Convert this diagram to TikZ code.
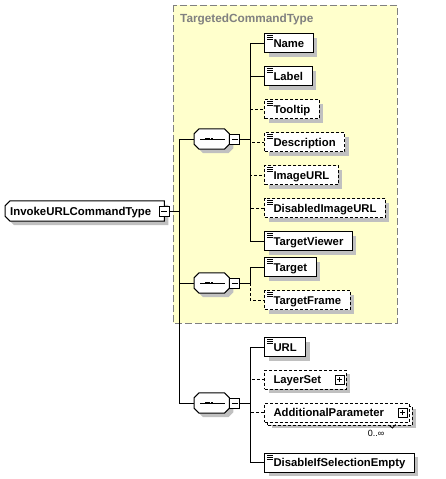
\documentclass[tikz,border=0pt]{standalone}
\usepackage{fontspec}
\setmainfont{Liberation Sans}
\usetikzlibrary{positioning, shadows, backgrounds}
\definecolor{groupfill}{RGB}{255,255,204}
\definecolor{groupgray}{RGB}{128,128,128}
\definecolor{shadowgray}{RGB}{192,192,192}
\tikzset{xs-line/.style={line width=1pt}}
\tikzset{xs-optline/.style={line width=1pt, dash pattern=on 3pt off 2pt}}
\tikzset{xs-shadow/.style={drop shadow={shadow xshift=4pt, shadow yshift=-4pt, fill=shadowgray, opacity=1}}}
\tikzset{xs-frame/.style={draw, fill=white, line width=1pt, xs-shadow}}
\tikzset{xs-box/.style={draw, fill=white, line width=1pt, xs-shadow, inner xsep=0pt, inner ysep=0pt, minimum height=19pt, text height=8.2pt, text depth=0pt, anchor=west, font=\bfseries\fontsize{11.3}{13}\selectfont, execute at begin node={\hspace*{9pt}}, execute at end node={\hspace*{9pt}}}}
\tikzset{xs-icon/.style={path picture={\foreach \d in {2pt,4pt,6pt} \draw[solid, line width=0.9pt] ([xshift=2.5pt, yshift=-\d]path picture bounding box.north west) -- ++(6pt,0pt);}}}
\tikzset{xs-elem/.style={xs-box, xs-icon}}
\tikzset{xs-optelem/.style={xs-box, xs-icon, dash pattern=on 3pt off 2pt}}
\tikzset{xs-cxelem/.style={xs-box, dash pattern=on 3pt off 2pt, execute at end node={\hspace*{16pt}}}}
\tikzset{xs-minus/.style={draw, solid, fill=white, line width=1pt, minimum size=10pt, inner sep=0pt, path picture={\draw[line width=1pt] ([xshift=2pt]path picture bounding box.west) -- ([xshift=-2pt]path picture bounding box.east);}}}
\tikzset{xs-plus/.style={xs-minus, minimum size=9pt, path picture={\draw[line width=1pt] ([xshift=2pt]path picture bounding box.west) -- ([xshift=-2pt]path picture bounding box.east) ([yshift=2pt]path picture bounding box.south) -- ([yshift=-2pt]path picture bounding box.north);}}}
\tikzset{xs-seq/.style={inner sep=0pt, minimum width=35pt, minimum height=20pt, anchor=west}}
\tikzset{xs-root/.style={inner sep=0pt, minimum height=20pt, text height=8.2pt, text depth=0pt, anchor=west, font=\bfseries\fontsize{11.4}{13}\selectfont, execute at begin node={\hspace*{5pt}}, execute at end node={\hspace*{13pt}}}}
% outlines with cut corners
\tikzset{xs-octagon/.style={insert path={([xshift=5pt]#1.north west) -- ([xshift=-5pt]#1.north east) -- ([yshift=-5pt]#1.north east) -- ([yshift=5pt]#1.south east) -- ([xshift=-5pt]#1.south east) -- ([xshift=5pt]#1.south west) -- ([yshift=5pt]#1.south west) -- ([yshift=-5pt]#1.north west) -- cycle}}}
\tikzset{xs-leftcut/.style={insert path={([xshift=5pt]#1.north west) -- (#1.north east) -- (#1.south east) -- ([xshift=5pt]#1.south west) -- ([yshift=5pt]#1.south west) -- ([yshift=-5pt]#1.north west) -- cycle}}}

\begin{document}
\begin{tikzpicture}[x=1pt, y=-1pt]
    \useasboundingbox (0,0) rectangle (446,479);

    \node[anchor=west, inner sep=0pt, text=groupgray, font=\bfseries\fontsize{11.8}{13}\selectfont] (grouptitle) at (180,19) {TargetedCommandType};

    \node[xs-root] (root) at (5,211) {InvokeURLCommandType};
    \node[xs-minus] (root-m) at (root.east) {};

    \node[xs-seq] (seq1) at (194,139) {};
    \node[xs-minus, right=0pt of seq1] (seq1-m) {};
    \node[xs-seq] (seq2) at (194,283) {};
    \node[xs-minus, right=0pt of seq2] (seq2-m) {};
    \node[xs-seq] (seq3) at (194,403) {};
    \node[xs-minus, right=0pt of seq3] (seq3-m) {};

    \node[xs-elem] (name) at (264,43) {Name};
    \node[xs-elem, below=13pt of name.south west, anchor=north west] (label) {Label};
    \node[xs-optelem, below=13pt of label.south west, anchor=north west] (tooltip) {Tooltip};
    \node[xs-optelem, below=13pt of tooltip.south west, anchor=north west] (description) {Description};
    \node[xs-optelem, below=13pt of description.south west, anchor=north west] (imageurl) {ImageURL};
    \node[xs-optelem, below=13pt of imageurl.south west, anchor=north west] (disabledimageurl) {DisabledImageURL};
    \node[xs-elem, below=13pt of disabledimageurl.south west, anchor=north west] (targetviewer) {TargetViewer};

    \node[xs-elem] (target) at (264,267) {Target};
    \node[xs-optelem, below=13pt of target.south west, anchor=north west] (targetframe) {TargetFrame};

    \node[xs-elem] (url) at (264,347) {URL};
    \node[xs-cxelem, below=12.5pt of url.south west, anchor=north west] (layerset) {LayerSet};
    \node[xs-plus, left=2pt of layerset.east] (layerset-p) {};
    \node[xs-cxelem, below=13pt of layerset.south west, anchor=north west, drop shadow={shadow xshift=7pt, shadow yshift=-6pt, fill=shadowgray, opacity=1}, general shadow={shadow xshift=3pt, shadow yshift=-3pt, fill=white, draw, line width=1pt, dash pattern=on 3pt off 2pt}] (addparam) {AdditionalParameter};
    \node[xs-plus, left=2pt of addparam.east] (addparam-p) {};
    \node[anchor=north east, inner sep=0pt, font=\fontsize{9}{10}\selectfont] (addparam-card) at ([xshift=-25pt, yshift=-8pt]addparam.south east) {0..∞};
    \draw[line width=0.8pt] ([xshift=-21pt, yshift=-2.5pt]addparam.south east) -- ++(4pt,-3pt) -- ++(3pt,3.5pt);
    \node[xs-elem, below=30pt of addparam.south west, anchor=north west] (disableifempty) {DisableIfSelectionEmpty};

    \begin{scope}[on background layer]
        % group box
        \draw[fill=groupfill, draw=groupgray, line width=1pt, dash pattern=on 7pt off 3pt] (173,5) rectangle (397,323);
        \draw[xs-frame, xs-leftcut=root];
        \foreach \s in {seq1,seq2,seq3} {
            \draw[xs-frame, xs-octagon=\s];
            \draw[xs-line] ([xshift=6pt]\s.west) -- ([xshift=-4pt]\s.east);
            \foreach \d in {-6.5pt,-3.7pt,-0.9pt}
                \fill ([xshift=\d, yshift=-1.2pt]\s.center) rectangle ++(2.4pt,2.4pt);
        }
    \end{scope}

    \coordinate (fork) at ([xshift=10pt]root-m.east);
    \draw[xs-line] (root-m.east) -- (fork);
    \draw[xs-line] (seq1.west) -| (fork) |- (seq3.west);
    \draw[xs-line] (fork |- seq2.west) -- (seq2.west);

    \coordinate (fork1) at ([xshift=10pt]seq1-m.east);
    \draw[xs-line] (seq1-m.east) -- (fork1);
    \draw[xs-optline] (fork1) |- (tooltip.west);
    \draw[xs-optline] (fork1) |- (description.west);
    \draw[xs-optline] (fork1) |- (imageurl.west);
    \draw[xs-optline] (fork1) |- (disabledimageurl.west);
    \draw[xs-line] (fork1) |- (name.west);
    \draw[xs-line] (fork1) |- (label.west);
    \draw[xs-line] (fork1) |- (targetviewer.west);

    \coordinate (fork2) at ([xshift=10pt]seq2-m.east);
    \draw[xs-line] (seq2-m.east) -- (fork2);
    \draw[xs-optline] (fork2) |- (targetframe.west);
    \draw[xs-line] (fork2) |- (target.west);

    \coordinate (fork3) at ([xshift=10pt]seq3-m.east);
    \draw[xs-line] (seq3-m.east) -- (fork3);
    \draw[xs-optline] (fork3) |- (layerset.west);
    \draw[xs-optline] (fork3) |- (addparam.west);
    \draw[xs-line] (fork3) |- (url.west);
    \draw[xs-line] (fork3) |- (disableifempty.west);
\end{tikzpicture}
\end{document}
